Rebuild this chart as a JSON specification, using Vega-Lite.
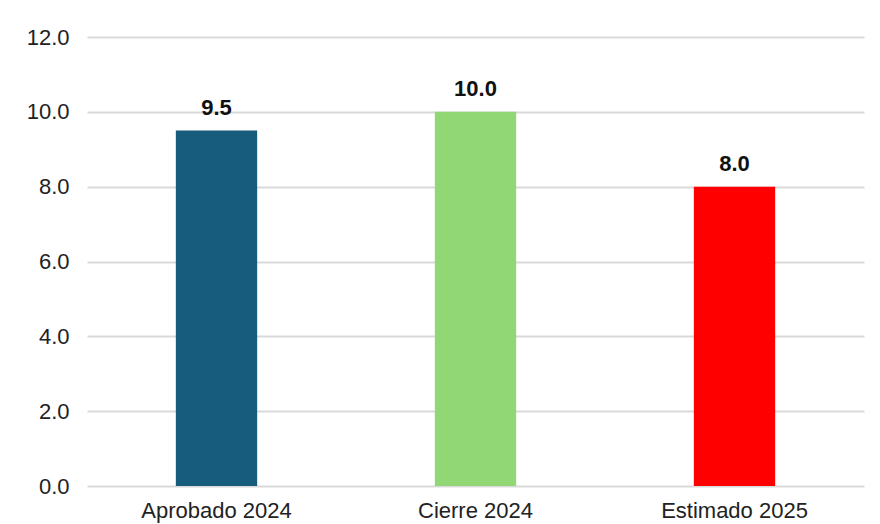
{
  "$schema": "https://vega.github.io/schema/vega-lite/v6.json",
  "autosize": {"type": "none"},
  "padding": {"left": 87, "top": 37, "right": 16, "bottom": 38},
  "width": 777,
  "height": 449,
  "background": "white",
  "config": {
    "view": {"stroke": null},
    "font": "Liberation Sans"
  },
  "data": {
    "values": [
      {"categoria": "Aprobado 2024", "valor": 9.5},
      {"categoria": "Cierre 2024", "valor": 10.0},
      {"categoria": "Estimado 2025", "valor": 8.0}
    ]
  },
  "encoding": {
    "x": {
      "field": "categoria",
      "type": "nominal",
      "sort": null,
      "scale": {"paddingInner": 0.686, "paddingOuter": 0.343},
      "axis": {
        "title": null,
        "labelAngle": 0,
        "labelFontSize": 22,
        "labelColor": "#222222",
        "labelPadding": 14,
        "ticks": false,
        "domain": false
      }
    },
    "y": {
      "field": "valor",
      "type": "quantitative",
      "scale": {"domain": [0, 12], "nice": false},
      "axis": {
        "title": null,
        "values": [0, 2, 4, 6, 8, 10, 12],
        "format": ".1f",
        "labelFontSize": 22,
        "labelColor": "#222222",
        "labelPadding": 18,
        "ticks": false,
        "domain": false,
        "gridColor": "#d9d9d9",
        "gridWidth": 2
      }
    }
  },
  "layer": [
    {
      "mark": {"type": "bar"},
      "encoding": {
        "color": {
          "field": "categoria",
          "type": "nominal",
          "scale": {
            "domain": ["Aprobado 2024", "Cierre 2024", "Estimado 2025"],
            "range": ["#175b7d", "#91d775", "#ff0000"]
          },
          "legend": null
        }
      }
    },
    {
      "mark": {"type": "text", "baseline": "alphabetic", "dy": -16, "fontSize": 22, "fontWeight": "bold", "color": "#111111"},
      "encoding": {
        "text": {"field": "valor", "type": "quantitative", "format": ".1f"}
      }
    }
  ]
}
